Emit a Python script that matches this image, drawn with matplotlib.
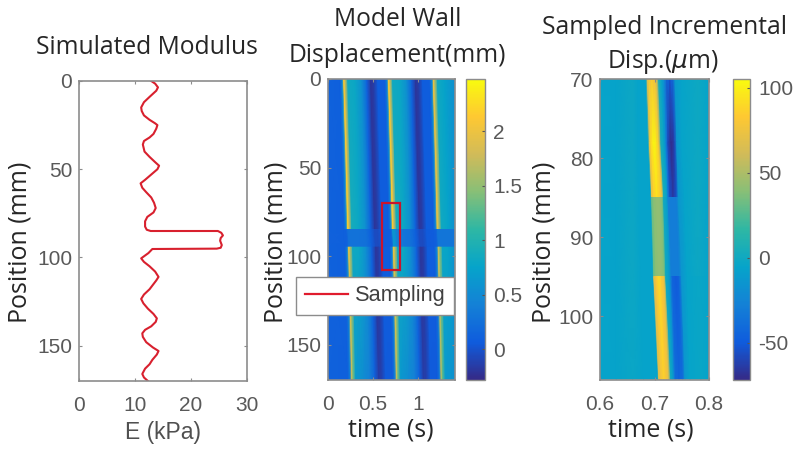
import matplotlib
matplotlib.use("Agg")
import matplotlib.pyplot as plt
import numpy as np
from matplotlib.colors import LinearSegmentedColormap, Normalize
from matplotlib.cm import ScalarMappable
from matplotlib.patches import Rectangle

W, H = 800, 455

# simulated modulus profile
modulus_e = [12.9, 13.6, 14.1, 13.8, 12.6, 11.6, 11.1, 11.2, 11.6, 12.6, 13.6, 14.0, 13.8, 13.3, 12.6,
             11.6, 11.4, 11.7, 12.6, 13.6, 14.3, 14.0, 12.9, 11.8, 11.0, 11.3, 12.0, 12.9, 13.4, 13.7,
             13.3, 12.2, 11.8, 11.8, 12.1, 12.8, 24.8, 25.4, 25.7, 25.3, 25.2, 25.5, 25.3, 24.6, 13.1,
             12.4, 11.1, 11.6, 12.6, 13.6, 14.2, 13.8, 12.6, 11.6, 11.1, 11.5, 12.3, 13.3, 13.9, 13.7,
             12.9, 11.8, 11.3, 11.4, 12.0, 13.2, 14.2, 13.9, 13.1, 12.6, 11.8, 11.3, 11.6, 12.3]
modulus_pos = [0, 1.5, 3.6, 5.5, 9, 12, 15, 17, 19.5, 22, 24, 25, 27, 30, 32,
               34, 36, 40, 43, 46, 48, 50, 53, 56, 58, 60.5, 63, 66, 69, 72,
               74.5, 77, 79.5, 82.5, 84.3, 85, 85, 86, 87.5, 89, 90.5, 93, 94.5, 95, 95.2,
               97.5, 100.5, 102.5, 105, 108, 111, 113, 118, 121, 123.5, 126, 129, 132, 134.5, 136.5,
               139, 141, 143, 145, 148, 151, 153, 155, 158, 160.5, 163, 166, 168, 170]

# model wall displacement: knot times at each position level
wall_levels = [0, 85, 95, 170]
wall_t_0 = [0, .133, .16, .177, .193, .221, .298, .376, .431, .475, .508, .552, .63, .657, .674,
            .691, .718, .796, .873, .928, .972, 1.006, 1.05, 1.127, 1.155, 1.171, 1.188, 1.216, 1.293, 1.41]
wall_t_85 = [0, .177, .204, .221, .237, .265, .342, .42, .475, .519, .552, .596, .674, .701, .718,
             .735, .762, .84, .917, .972, 1.016, 1.05, 1.094, 1.171, 1.199, 1.215, 1.232, 1.26, 1.337, 1.41]
wall_t_95 = [0, .188, .215, .232, .248, .276, .353, .431, .486, .53, .563, .607, .685, .712, .729,
             .746, .773, .851, .928, .983, 1.027, 1.061, 1.105, 1.182, 1.21, 1.226, 1.243, 1.271, 1.348, 1.41]
wall_t_170 = [0, .221, .248, .265, .281, .309, .386, .464, .519, .563, .596, .64, .718, .745, .762,
              .779, .806, .884, .961, 1.016, 1.06, 1.094, 1.138, 1.215, 1.243, 1.259, 1.276, 1.304, 1.381, 1.41]

wall_v_0 = [.12, .1, .5, 2.1, 1.7, .85, .8, .55, .12, -.2, -.15, .08, .08, .5, 2.1,
            1.7, .85, .8, .55, .12, -.2, -.15, .08, .08, .5, 2.0, 1.6, .85, .75, .55]
wall_v_85a = [.12, .1, .5, 2.2, 1.8, .9, .8, .55, .12, -.2, -.15, .08, .08, .5, 2.2,
              1.8, .9, .8, .55, .12, -.2, -.15, .08, .08, .5, 2.0, 1.7, .85, .75, .55]
wall_v_85b = [.12, .1, .12, .25, .28, .28, .28, .25, .1, -.05, -.05, .06, .08, .12, .6,
              .6, .4, .3, .25, .1, -.05, -.05, .06, .08, .12, .3, .3, .3, .3, .3]
wall_v_95b = [.12, .1, .5, 2.1, 1.7, .85, .8, .5, .12, -.2, -.15, .08, .08, .5, 2.1,
              1.7, .85, .8, .5, .12, -.2, -.15, .08, .08, .5, 1.9, 1.5, .8, .75, .55]
wall_v_170 = [.12, .1, .4, 1.7, 1.3, .65, .55, .4, .12, -.15, -.12, .06, .06, .4, 1.7,
              1.3, .65, .55, .4, .12, -.15, -.12, .06, .06, .35, 1.6, 1.2, .65, .6, .55]
wall_cb_ticks = [0, 0.5, 1, 1.5, 2]
wall_cb_labels = ["0", "0.5", "1", "1.5", "2"]

# sampled incremental displacement: knot times at each position level
inc_levels = [70, 78, 85, 95, 108]
inc_t_70 = [.6, .63, .66, .67, .684, .687, .69, .695, .70, .704, .708, .714, .719, .722, .728, .734, .738, .75, .78, .8]
inc_t_78 = [.6, .63, .66, .67, .688, .691, .694, .699, .704, .708, .712, .718, .722, .725, .731, .737, .741, .75, .78, .8]
inc_t_85 = [.6, .63, .66, .672, .693, .695, .699, .704, .709, .714, .717, .723, .725, .728, .734, .74, .744, .755, .78, .8]
inc_t_95 = [.6, .63, .66, .675, .697, .699, .703, .708, .713, .718, .721, .727, .731, .733, .74, .745, .75, .76, .78, .8]
inc_t_108 = [.6, .63, .66, .68, .706, .708, .712, .717, .722, .726, .73, .734, .737, .739, .745, .752, .756, .765, .785, .8]

inc_v_70 = [-5, -6, -2, -6, -6, 60, 74, 80, 76, 62, 5, -8, -25, -40, -52, -40, -12, -5, -1, -6]
inc_v_78 = [-5, -6, -2, -6, -6, 72, 92, 104, 94, 74, 5, -8, -35, -60, -72, -60, -15, -5, -1, -6]
inc_v_85a = [-5, -6, -2, -6, -6, 70, 85, 92, 86, 72, 5, -8, -30, -55, -65, -55, -15, -5, -1, -6]
inc_v_85b = [-5, -6, -2, -6, -6, 32, 40, 42, 42, 36, 0, -10, -28, -30, -30, -30, -14, -5, -1, -6]
inc_v_95a = [-5, -6, -2, -6, -6, 32, 40, 42, 42, 36, 0, -10, -28, -30, -30, -30, -14, -5, -2, -6]
inc_v_95b = [-5, -6, -2, -6, -6, 68, 80, 90, 82, 70, 0, -10, -35, -45, -50, -45, -14, -5, -3, -6]
inc_v_108 = [-5, -6, -3, -6, -6, 66, 76, 86, 78, 68, 0, -10, -30, -40, -45, -40, -14, -5, -3, -6]
inc_cb_ticks = [-50, 0, 50, 100]
inc_cb_labels = ["-50", "0", "50", "100"]

PARULA = LinearSegmentedColormap.from_list(
    "parula", ["#352a87", "#0f5cdd", "#1481d6", "#06a4ca", "#2eb7a4",
               "#87bf77", "#d1bb59", "#fec832", "#f9fb0e"])
FRAME = "#8c8c8c"
TICK_TEXT = "#595959"
DARK_TEXT = "#262626"
TITLE_FONT = "Open Sans"
TICK_FONT = "Liberation Sans"
RED = "#d8202e"
TITLE_SIZE = 17.7


def px_axes(fig, x0, y0, x1, y1):
    return fig.add_axes([x0 / W, 1 - y1 / H, (x1 - x0) / W, (y1 - y0) / H])


def px_text(fig, x, y, s, size=18, color=DARK_TEXT, rotation=0, family=TITLE_FONT):
    fig.text(x / W, 1 - y / H, s, fontsize=size, color=color, rotation=rotation,
             family=family, ha="center", va="center")


def style_axes(ax, xticks, xlabels, yticks, pad=5):
    ax.set_xticks(xticks, xlabels)
    ax.set_yticks(yticks)
    ax.tick_params(direction="in", length=2.5, width=0.8, color=FRAME, labelcolor=TICK_TEXT,
                   labelsize=15, top=True, right=True, pad=pad)
    for label in ax.get_xticklabels() + ax.get_yticklabels():
        label.set_family(TICK_FONT)
    ax.tick_params(axis="x", pad=11)
    for spine in ax.spines.values():
        spine.set_color(FRAME)
        spine.set_linewidth(1.2)


def draw_block(ax, t_top, t_bot, y_top, y_bot, v_top, v_bot, norm):
    T = np.array([t_top, t_bot])
    Y = np.array([[y_top] * len(t_top), [y_bot] * len(t_bot)])
    ax.pcolormesh(T, Y, np.array([v_top, v_bot]), shading="gouraud", cmap=PARULA, norm=norm)


def draw_colorbar(fig, box, norm, ticks, labels):
    cax = px_axes(fig, *box)
    cb = fig.colorbar(ScalarMappable(norm=norm, cmap=PARULA), cax=cax)
    cb.set_ticks(ticks, labels=labels)
    cax.tick_params(direction="in", length=2.5, width=0.8, color="#555555", labelcolor=TICK_TEXT,
                    labelsize=15, pad=6)
    for label in cax.get_yticklabels():
        label.set_family(TICK_FONT)
    cb.outline.set_edgecolor(FRAME)
    cb.outline.set_linewidth(1.0)


def main():
    plt.rcParams["axes.unicode_minus"] = False
    plt.rcParams["mathtext.fontset"] = "dejavusans"
    fig = plt.figure(figsize=(W / 100, H / 100), dpi=100)

    # left panel
    ax1 = px_axes(fig, 79, 81, 247, 381)
    ax1.plot(modulus_e, modulus_pos, color=RED, lw=1.5)
    ax1.set_xlim(0, 30)
    ax1.set_ylim(170, 0)
    style_axes(ax1, [0, 10, 20, 30], ["0", "10", "20", "30"], [0, 50, 100, 150])
    px_text(fig, 147, 47, "Simulated Modulus", size=TITLE_SIZE)
    px_text(fig, 163, 432, "E (kPa)", size=16.5, color="#505050", family=TICK_FONT)
    px_text(fig, 20, 242, "Position (mm)", rotation=90)

    # middle panel
    ax2 = px_axes(fig, 328, 79, 455, 380)
    wall_norm = Normalize(-0.28, 2.48)
    draw_block(ax2, wall_t_0, wall_t_85, wall_levels[0], wall_levels[1], wall_v_0, wall_v_85a, wall_norm)
    draw_block(ax2, wall_t_85, wall_t_95, wall_levels[1], wall_levels[2], wall_v_85b, wall_v_85b, wall_norm)
    draw_block(ax2, wall_t_95, wall_t_170, wall_levels[2], wall_levels[3], wall_v_95b, wall_v_170, wall_norm)
    ax2.set_xlim(0, 1.41)
    ax2.set_ylim(170, 0)
    style_axes(ax2, [0, 0.5, 1], ["0", "0.5", "1"], [0, 50, 100, 150])
    ax2.add_patch(Rectangle((0.6, 70), 0.2, 38, fill=False, edgecolor="#c8142d", lw=1.6, zorder=3))
    legend_line, = ax2.plot([], [], color="#e01b2d", lw=1.6, label="Sampling")
    leg = ax2.legend(handles=[legend_line], loc="upper left", bbox_to_anchor=(-0.25, 0.342), borderaxespad=0,
                     fancybox=False, framealpha=1, edgecolor=FRAME, handlelength=2.0, handletextpad=0.3,
                     borderpad=0.38, prop={"family": TICK_FONT, "size": 15.7})
    leg.get_texts()[0].set_color("#404040")
    leg.set_zorder(6)
    draw_colorbar(fig, (466, 79, 485, 380), wall_norm, wall_cb_ticks, wall_cb_labels)
    px_text(fig, 398, 20, "Model Wall", size=TITLE_SIZE)
    px_text(fig, 397, 55, "Displacement(mm)", size=TITLE_SIZE)
    px_text(fig, 391, 430, "time (s)")
    px_text(fig, 276, 242, "Position (mm)", rotation=90)

    # right panel
    ax3 = px_axes(fig, 600, 79, 709, 380)
    inc_norm = Normalize(-72, 105)
    draw_block(ax3, inc_t_70, inc_t_78, inc_levels[0], inc_levels[1], inc_v_70, inc_v_78, inc_norm)
    draw_block(ax3, inc_t_78, inc_t_85, inc_levels[1], inc_levels[2], inc_v_78, inc_v_85a, inc_norm)
    draw_block(ax3, inc_t_85, inc_t_95, inc_levels[2], inc_levels[3], inc_v_85b, inc_v_95a, inc_norm)
    draw_block(ax3, inc_t_95, inc_t_108, inc_levels[3], inc_levels[4], inc_v_95b, inc_v_108, inc_norm)
    ax3.set_xlim(0.6, 0.8)
    ax3.set_ylim(108.1, 70)
    style_axes(ax3, [0.6, 0.7, 0.8], ["0.6", "0.7", "0.8"], [70, 80, 90, 100])
    draw_colorbar(fig, (733, 79, 750, 380), inc_norm, inc_cb_ticks, inc_cb_labels)
    px_text(fig, 664, 27, "Sampled Incremental", size=TITLE_SIZE)
    px_text(fig, 663, 62, r"Disp.($\mu$m)", size=TITLE_SIZE)
    px_text(fig, 651, 430, "time (s)")
    px_text(fig, 544, 242, "Position (mm)", rotation=90)

    fig.savefig("out.png", dpi=100)


if __name__ == "__main__":
    main()
